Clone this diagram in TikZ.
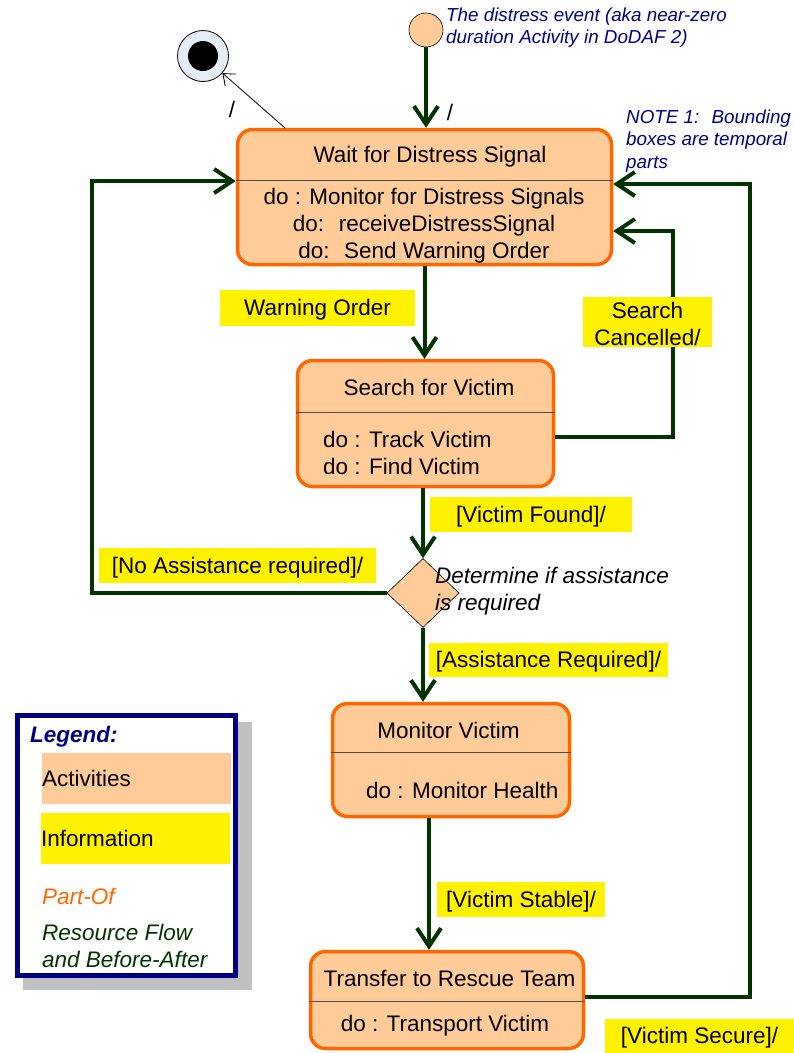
\documentclass[tikz,border=0pt]{standalone}
\usepackage{fontspec}
\setmainfont{Liberation Sans}
\usetikzlibrary{arrows.meta,shapes.geometric}
\definecolor{peach}{HTML}{FFCC99}
\definecolor{partof}{HTML}{FF6600}
\definecolor{flowgreen}{HTML}{003300}
\definecolor{notenavy}{HTML}{000080}
\definecolor{shadowgray}{HTML}{C0C0C0}
\definecolor{finalfill}{HTML}{E6ECF5}
\newcommand\txtsize{\fontsize{22.5}{27}\selectfont}
\newcommand\notesize{\fontsize{18.8}{22.5}\selectfont}
\tikzset{>={Straight Barb[length=18pt,width=24pt]}}
\tikzset{
  state/.style={draw=partof, fill=peach, line width=3.5pt, rounded corners=15pt, inner sep=0pt},
  divider/.style={draw=black!70, line width=1pt},
  flow/.style={draw=flowgreen, line width=4pt, ->},
  info/.style={fill=yellow, inner sep=0pt, font=\txtsize, text height=20pt, text depth=4.7pt},
  note/.style={text=notenavy, font=\notesize\itshape, align=left, inner sep=0pt, anchor=west},
  txt/.style={font=\txtsize, inner sep=0pt, yshift=-2pt},
  legbox/.style={font=\txtsize, inner sep=0pt, anchor=west, text width=189pt, minimum height=51pt, align=left},
}

\begin{document}
\begin{tikzpicture}[x=1pt, y=-1pt]
  \useasboundingbox (0,0) rectangle (794,1053);

  %% states
  \node[state, minimum width=374pt, minimum height=135pt] (wait) at (424.5,197) {};
  \node[state, minimum width=256pt, minimum height=126pt] (search) at (425.5,423.5) {};
  \node[state, minimum width=237pt, minimum height=113pt] (mon) at (451,760) {};
  \node[state, minimum width=273pt, minimum height=97pt] (xfer) at (447,1000) {};
  \node[diamond, draw=black, fill=peach, line width=0.6pt, minimum width=72pt, minimum height=69pt, inner sep=0pt] (dec) at (423,593) {};

  \draw[divider] (wait.west |- 0,180) -- (wait.east |- 0,180);
  \draw[divider] (search.west |- 0,412) -- (search.east |- 0,412);
  \draw[divider] (mon.west |- 0,752) -- (mon.east |- 0,752);
  \draw[divider] (xfer.west |- 0,1001) -- (xfer.east |- 0,1001);

  \node[txt] (waitT) at (430,155) {Wait for Distress Signal};
  \node[txt, align=center] (waitB) at (424,224) {do : Monitor for Distress Signals\\do:~ receiveDistressSignal\\do:~ Send Warning Order};
  \node[txt] (searchT) at (429,385) {Search for Victim};
  \node[txt, align=left, anchor=west] (searchB) at (323,450.5) {do : Track Victim\\do : Find Victim};
  \node[txt] (monT) at (448.5,728) {Monitor Victim};
  \node[txt, anchor=west] (monB) at (366,788) {do : Monitor Health};
  \node[txt] (xferT) at (449.5,976) {Transfer to Rescue Team};
  \node[txt] (xferB) at (445,1024) {do : Transport Victim};
  \node[txt, font=\txtsize\itshape, align=left, anchor=west] (decT) at (435,589.5) {Determine if assistance\\is required};

  %% initial and final
  \node[circle, draw=black, fill=peach, line width=0.6pt, minimum size=34pt, inner sep=0pt] (init) at (426,30) {};
  \node[circle, draw=black, fill=finalfill, line width=0.8pt, minimum size=51pt, inner sep=0pt] (final) at (203,56) {};
  \node[circle, fill=black, minimum size=30pt, inner sep=0pt] (finaldot) at (final) {};
  \coordinate (exitpt) at (285,128);

  \draw[flow] (init) -- (init |- wait.north);
  \draw[-{Straight Barb[length=10pt,width=16pt]}, line width=0.8pt] (exitpt) -- (final);
  \node[txt] (slashA) at (232,107) {/};
  \node[txt] (slashB) at (450,110) {/};

  %% flows
  \draw[flow] (wait.south) -- (wait.south |- search.north);
  \draw[flow] (dec.north |- search.south) -- (dec.north);
  \draw[flow] (dec.south) -- (dec.south |- mon.north);
  \draw[flow] (mon.south -| 429,0) -- (xfer.north -| 429,0);
  \draw[flow] (search.east |- 0,437) -- (673,437) -- (673,231) -- (wait.east |- 0,231); %% cancelled
  \draw[flow] (xfer.east |- 0,997) -- (750,997) -- (750,184) -- (wait.east |- 0,184); %% secure
  \draw[flow] (dec.west) -- (92,593) -- (92,181) -- (wait.west |- 0,181); %% no assistance

  %% information
  \node[info, minimum width=195pt, minimum height=36pt] (lWarn) at (317.5,308) {Warning Order};
  \node[fill=yellow, inner sep=0pt, font=\txtsize, align=center, minimum width=129pt, minimum height=50pt] (lCancel) at (647.5,322) {};
  \node[txt, align=center] (lCancelT) at (lCancel) {Search\\Cancelled/};
  \node[info, minimum width=202pt, minimum height=35pt] (lFound) at (531,514.5) {[Victim Found]/};
  \node[info, minimum width=277pt, minimum height=35pt] (lNoAssist) at (237.5,565.5) {[No Assistance required]/};
  \node[info, minimum width=239pt, minimum height=34pt] (lAssist) at (548.5,660) {[Assistance Required]/};
  \node[info, minimum width=168pt, minimum height=35pt] (lStable) at (521,899.5) {[Victim Stable]/};
  \node[info, minimum width=189pt, minimum height=34pt] (lSecure) at (699.5,1036) {[Victim Secure]/};

  %% notes
  \node[note] (evNote) at (446,27.5) {The distress event (aka near-zero\\duration Activity in DoDAF 2)};
  \node[note] (boxNote) at (626,141) {NOTE 1:~ Bounding\\boxes are temporal\\parts};

  %% legend
  \fill[shadowgray] (23,722) rectangle (252,990);
  \node[draw=notenavy, line width=5pt, fill=white, minimum width=218pt, minimum height=260pt, inner sep=0pt] (legend) at (126.5,845.5) {};
  \node[txt, anchor=west, text=notenavy, font=\txtsize\bfseries\itshape] (legT) at (30,735) {Legend:};
  \node[legbox, fill=peach] (legAct) at (42,778.5) {Activities};
  \node[legbox, fill=yellow] (legInfo) at (41,838.5) {Information};
  \node[txt, anchor=west, text=partof, font=\txtsize\itshape] (legPart) at (42,894) {Part-Of};
  \node[txt, anchor=west, text=flowgreen, font=\txtsize\itshape, align=left] (legFlow) at (42,943.5) {Resource Flow\\and Before-After};
\end{tikzpicture}
\end{document}
